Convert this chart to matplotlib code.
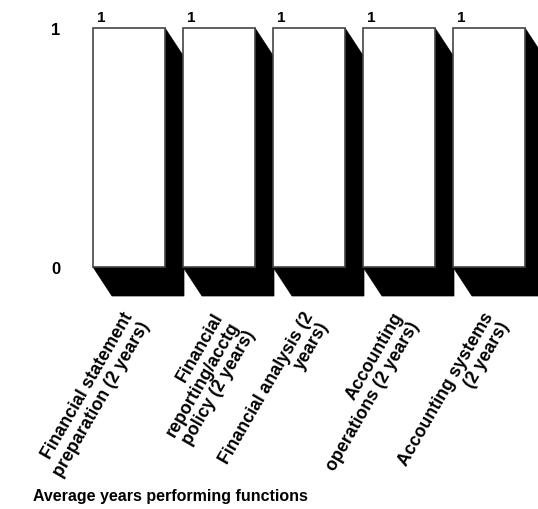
#!/usr/bin/env python3

import matplotlib
matplotlib.use("Agg")
import matplotlib.pyplot as plt
from matplotlib.patches import Polygon, Rectangle

# chart data
categories = [
    "Financial statement\npreparation (2 years)",
    "Financial\nreporting/acctg\npolicy (2 years)",
    "Financial analysis (2\nyears)",
    "Accounting\noperations (2 years)",
    "Accounting systems\n(2 years)",
]
values = [1, 1, 1, 1, 1]
value_labels = ["1", "1", "1", "1", "1"]
y_ticks = [0, 1]
y_tick_labels = ["0", "1"]
title = "Average years performing functions"

plt.rcParams['font.family'] = ['Liberation Sans', 'DejaVu Sans']
plt.rcParams['font.weight'] = 'bold'

W, H = 538, 510
fig = plt.figure(figsize=(W / 100, H / 100), dpi=100)
ax = fig.add_axes([84 / W, 242 / H, 450 / W, 239 / H])
ax.set_xlim(-0.5, len(categories) - 0.5)
ax.set_ylim(0, 1)

bar_w = 0.8
# depth of the 3D shadow, in data units (about 19 px right, 29 px down)
depth_x = 19 / 90
depth_y = -29 / 239

for i, v in enumerate(values):
    x0 = i - bar_w / 2
    x1 = i + bar_w / 2
    # black extruded shadow
    shadow = Polygon(
        [(x0, 0), (x1, 0), (x1, v), (x1 + depth_x, v + depth_y),
         (x1 + depth_x, depth_y), (x0 + depth_x, depth_y)],
        closed=True, facecolor='black', edgecolor='black',
        linewidth=0.5, clip_on=False, zorder=2 + i * 2)
    ax.add_patch(shadow)
    # white front face
    front = Rectangle((x0, 0), bar_w, v, facecolor='white',
                      edgecolor='#444444', linewidth=1.2,
                      clip_on=False, zorder=3 + i * 2)
    ax.add_patch(front)
    ax.annotate(value_labels[i], xy=(x0, v), xytext=(3, 3),
                textcoords='offset points', ha='left', va='bottom',
                fontsize=11, fontweight='bold')
    ax.annotate(categories[i], xy=(i, 0), xytext=(-5, -30),
                textcoords='offset points', rotation=60,
                rotation_mode='anchor', ha='right', va='top',
                multialignment='right', fontsize=12.8, fontweight='bold',
                linespacing=1.1)

ax.set_xticks([])
ax.set_yticks(y_ticks)
ax.set_yticklabels(y_tick_labels, fontsize=12, fontweight='bold')
ax.tick_params(axis='y', length=0, pad=17)
for s in ax.spines.values():
    s.set_visible(False)

fig.text(33 / W, (H - 497) / H, title, ha='left', va='center',
         fontsize=11.5, fontweight='bold')

fig.savefig("out.png", dpi=100)
